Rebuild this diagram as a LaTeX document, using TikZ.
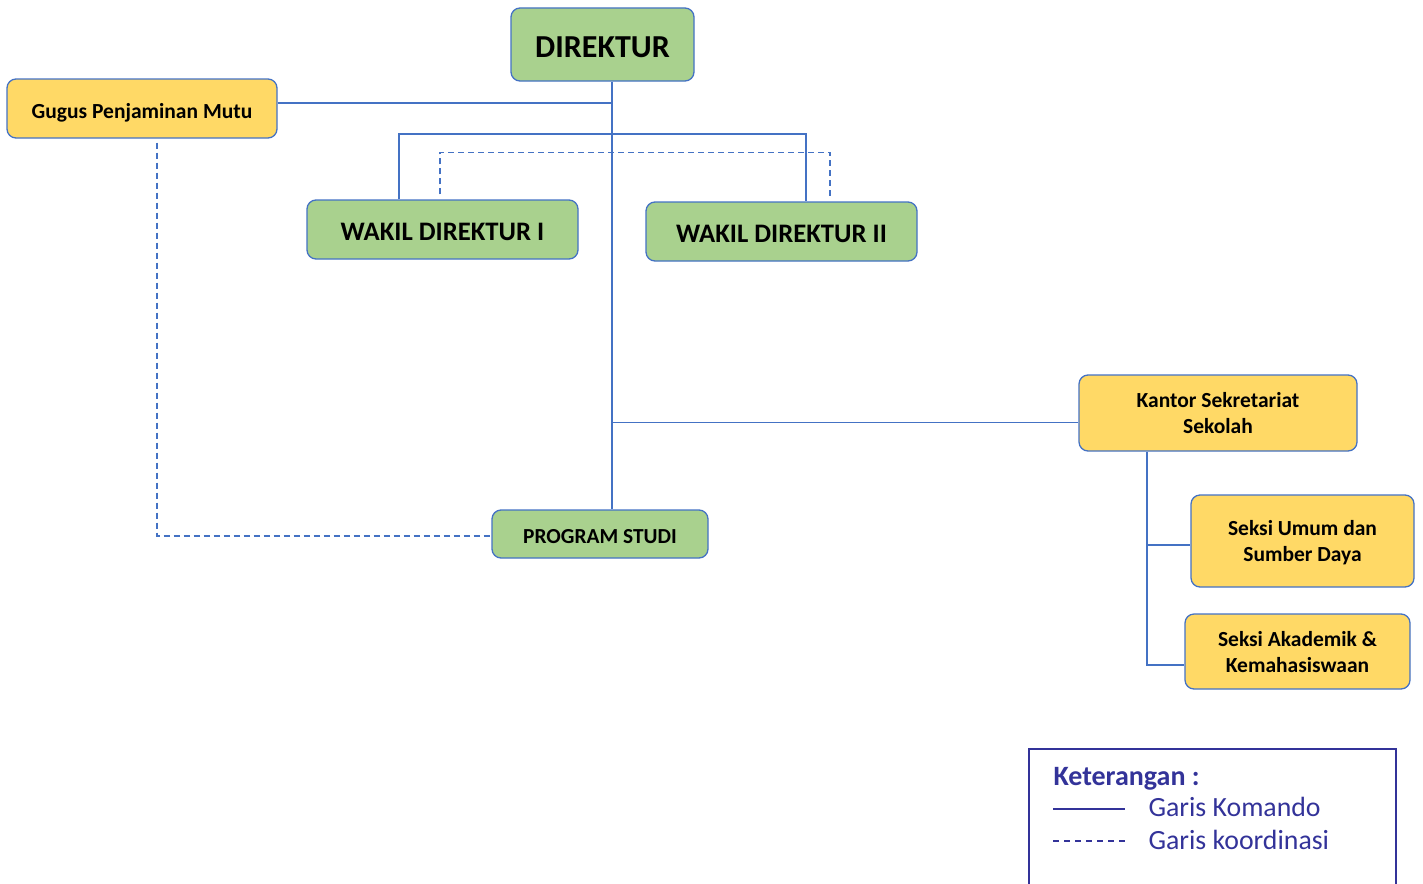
\documentclass[tikz,border=0pt]{standalone}
\usepackage{fontspec}
\setmainfont{Carlito}
\definecolor{garis}{HTML}{4472C4}
\definecolor{hijaumuda}{HTML}{A9D18E}
\definecolor{kuningmuda}{HTML}{FFD966}
\definecolor{ungu}{HTML}{333399}
\begin{document}
\begin{tikzpicture}[x=1pt, y=-1pt,
    kotak/.style={draw=garis, rounded corners=9pt, line width=1.3pt, align=center, inner sep=0pt},
    hijau/.style={kotak, fill=hijaumuda},
    kuning/.style={kotak, fill=kuningmuda},
    turun/.style={text height=#1, text depth=0pt},
    komando/.style={draw=garis, line width=1.9pt},
    koordinasi/.style={draw=garis, line width=1.1pt, dash pattern=on 6pt off 4pt}]
    \useasboundingbox (0,0) rectangle (1423,883) ;

    \node [hijau, turun=25.5pt, minimum width=183pt, minimum height=73pt, font=\bfseries\fontsize{32}{38}\selectfont] (direktur) at (602.5,44.5) {DIREKTUR} ;
    \node [kuning, turun=20pt, minimum width=270pt, minimum height=59pt, font=\bfseries\fontsize{21.5}{26}\selectfont] (gugus) at (142,108.5) {Gugus Penjaminan Mutu} ;
    \node [hijau, turun=21pt, minimum width=271pt, minimum height=59pt, font=\bfseries\fontsize{26.7}{30}\selectfont] (wakil1) at (442.5,229.5) {WAKIL DIREKTUR I} ;
    \node [hijau, turun=21pt, minimum width=271pt, minimum height=59pt, font=\bfseries\fontsize{26.7}{30}\selectfont] (wakil2) at (781.5,231.5) {WAKIL DIREKTUR II} ;
    \node [kuning, text depth=-12pt, minimum width=278pt, minimum height=76pt, font=\bfseries\fontsize{21.5}{26}\selectfont] (kantor) at (1218,413) {Kantor Sekretariat\\Sekolah} ;
    \node [kuning, text depth=-8pt, minimum width=223pt, minimum height=92pt, font=\bfseries\fontsize{21.5}{26}\selectfont] (umum) at (1302.5,541) {Seksi Umum dan\\Sumber Daya} ;
    \node [kuning, text depth=-10pt, minimum width=225pt, minimum height=75pt, font=\bfseries\fontsize{21.5}{26}\selectfont] (akademik) at (1297.5,651.5) {Seksi Akademik \&\\Kemahasiswaan} ;
    \node [hijau, turun=19pt, minimum width=216pt, minimum height=48pt, font=\bfseries\fontsize{21.4}{26}\selectfont] (prodi) at (600,534) {PROGRAM STUDI} ;

    % garis komando
    \coordinate (pusat) at ([xshift=9.5pt]direktur.south) ;
    \draw [komando] (pusat) -- (pusat |- prodi.north) ;
    \coordinate (g) at ([yshift=5.5pt]gugus.east) ;
    \draw [komando] (g) -- (g -| pusat) ;
    \draw [komando] ([xshift=-43.5pt]wakil1.north) -- ++(0,-65) -| ([xshift=24.5pt]wakil2.north) ;
    \coordinate (k) at ([yshift=-9.5pt]kantor.west) ;
    \draw [komando] (k -| pusat) -- (k) ;
    \coordinate (kt) at ([xshift=-71pt]kantor.south) ;
    \coordinate (ku) at ([yshift=-4pt]umum.west) ;
    \coordinate (ka) at ([yshift=-13.5pt]akademik.west) ;
    \draw [komando] (kt) |- (ka) ;
    \draw [komando] (kt |- ku) -- (ku) ;

    % garis koordinasi
    \draw [koordinasi] ([xshift=-2.5pt,yshift=5pt]wakil1.north) -- ++(0,-42) -| ([xshift=48.5pt,yshift=5pt]wakil2.north) ;
    \coordinate (p) at ([yshift=-2pt]prodi.west) ;
    \draw [koordinasi] ([xshift=15pt,yshift=-4pt]gugus.south) |- (p) ;

    % keterangan
    \node [draw=ungu, line width=1.6pt, minimum width=367pt, minimum height=160pt, anchor=north west] (ket) at (1028,748) {} ;
    \node [anchor=base west, text=ungu, font=\bfseries\fontsize{28}{32}\selectfont] (ketjudul) at (1050,785) {Keterangan :} ;
    \node [anchor=base west, text=ungu, font=\fontsize{27.8}{32}\selectfont] (ketkomando) at (1145,816) {Garis Komando} ;
    \node [anchor=base west, text=ungu, font=\fontsize{27.8}{32}\selectfont] (ketkoord) at (1145,849) {Garis koordinasi} ;
    \draw [draw=ungu, line width=1.6pt] (1053,809) -- (1125,809) ;
    \draw [draw=ungu, line width=1.1pt, dash pattern=on 6pt off 5pt] (1053,841) -- (1128,841) ;
\end{tikzpicture}
\end{document}
